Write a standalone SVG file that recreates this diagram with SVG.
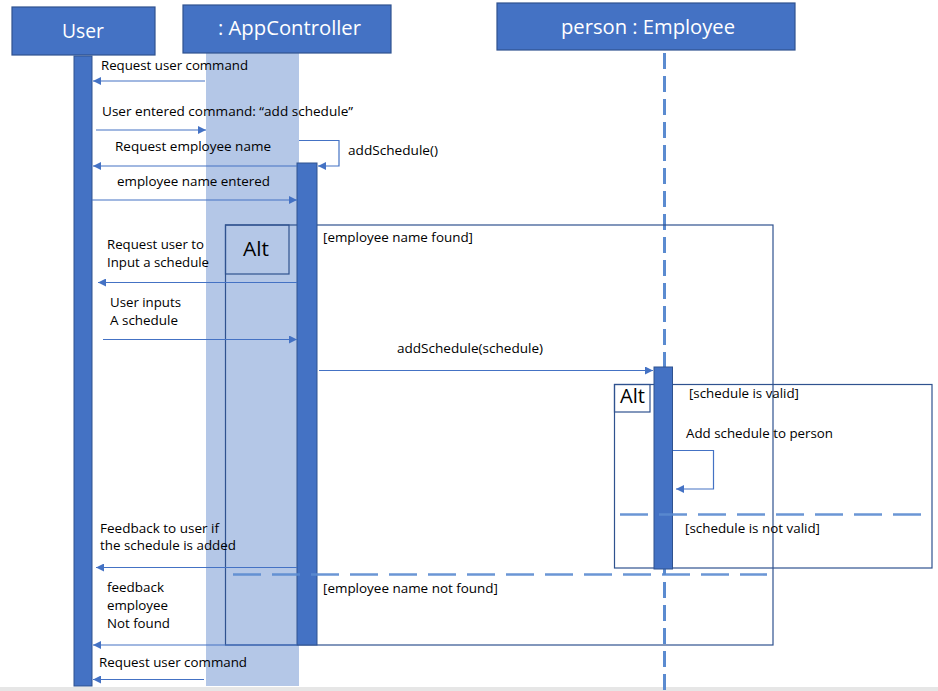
<svg xmlns="http://www.w3.org/2000/svg" width="938" height="691" viewBox="0 0 938 691">
<defs>
<style>
.hdr{fill:#4472C4;stroke:#2F528F;stroke-width:1.2}
.hdrt{font-family:"Open Sans","Liberation Sans",sans-serif;font-size:20px;fill:#FFFFFF}
.act{fill:#4472C4;stroke:#2F528F;stroke-width:1}
.band{fill:#B4C7E7}
.msg{fill:none;stroke:#4472C4;stroke-width:1.2}
.frm{fill:none;stroke:#2F528F;stroke-width:1.2}
.dash{fill:none;stroke:#5B8BD0;stroke-width:2.6;stroke-dasharray:28 11}
.life{fill:none;stroke:#5B8BD0;stroke-width:3;stroke-dasharray:16 7}
.t{font-family:"Open Sans","Liberation Sans",sans-serif;font-size:13px;fill:#000000}
.alt{font-family:"Open Sans","Liberation Sans",sans-serif;font-size:19.5px;fill:#000000}
</style>
<marker id="ah" viewBox="0 0 10 10" refX="10" refY="5" markerWidth="9" markerHeight="8" markerUnits="userSpaceOnUse" orient="auto">
<path d="M0,0 L10,5 L0,10 z" fill="#4472C4"/>
</marker>
</defs>
<rect x="0" y="0" width="938" height="691" fill="#FFFFFF"/>
<rect x="0" y="687" width="938" height="4" fill="#E6E6E6"/>

<g id="appcontroller">
<rect class="band" x="206" y="53" width="93" height="633"/>
<rect class="hdr" x="183" y="5" width="208" height="48"/>
<text class="hdrt" x="218" y="35" textLength="143" lengthAdjust="spacingAndGlyphs">: AppController</text>
</g>

<g id="user">
<rect class="hdr" x="12" y="7" width="143" height="48"/>
<text class="hdrt" x="62" y="38" textLength="42" lengthAdjust="spacingAndGlyphs">User</text>
<rect class="act" x="74" y="56" width="18" height="630"/>
</g>

<g id="employee">
<rect class="hdr" x="497" y="3" width="298" height="47"/>
<text class="hdrt" x="561" y="34" textLength="174" lengthAdjust="spacingAndGlyphs">person : Employee</text>
<line class="life" x1="664.5" y1="53" x2="664.5" y2="691"/>
</g>

<g id="alt-outer">
<rect class="frm" x="225.5" y="225" width="547.5" height="420"/>
<rect class="frm" x="225.5" y="225" width="63.5" height="49"/>
<text class="alt" x="243" y="256" textLength="26" lengthAdjust="spacingAndGlyphs">Alt</text>
<text class="t" x="323" y="242" textLength="150" lengthAdjust="spacingAndGlyphs">[employee name found]</text>
<text class="t" x="323" y="593" textLength="175" lengthAdjust="spacingAndGlyphs">[employee name not found]</text>
</g>

<g id="appcontroller-activation">
<rect class="act" x="297" y="163" width="20" height="482"/>
</g>

<g id="alt-inner">
<rect class="frm" x="614.5" y="384.5" width="317.5" height="183.5"/>
<rect class="frm" x="614.5" y="384.5" width="35.5" height="27.5"/>
<text class="alt" x="620" y="403" textLength="25" lengthAdjust="spacingAndGlyphs">Alt</text>
<text class="t" x="689" y="398" textLength="110" lengthAdjust="spacingAndGlyphs">[schedule is valid]</text>
<text class="t" x="686" y="438" textLength="147" lengthAdjust="spacingAndGlyphs">Add schedule to person</text>
<text class="t" x="685" y="533" textLength="135" lengthAdjust="spacingAndGlyphs">[schedule is not valid]</text>
</g>

<g id="employee-activation">
<rect class="act" x="654" y="367" width="18.5" height="202"/>
</g>

<g id="separators">
<line class="dash" x1="620" y1="514.5" x2="932" y2="514.5" opacity="0.9"/>
<line class="dash" x1="233" y1="574.5" x2="767" y2="574.5" opacity="0.9"/>
</g>

<g id="connectors">
<line class="msg" x1="205" y1="81" x2="93" y2="81" marker-end="url(#ah)"/>
<text class="t" x="101" y="70" textLength="147" lengthAdjust="spacingAndGlyphs">Request user command</text>

<line class="msg" x1="96" y1="130" x2="206" y2="130" marker-end="url(#ah)"/>
<text class="t" x="102" y="116" textLength="251" lengthAdjust="spacingAndGlyphs">User entered command: “add schedule”</text>

<polyline class="msg" points="299,140.5 339,140.5 339,166 318,166" marker-end="url(#ah)"/>
<text class="t" x="348" y="155" textLength="90" lengthAdjust="spacingAndGlyphs">addSchedule()</text>

<line class="msg" x1="297" y1="166" x2="93" y2="166" marker-end="url(#ah)"/>
<text class="t" x="115" y="151" textLength="156" lengthAdjust="spacingAndGlyphs">Request employee name</text>

<line class="msg" x1="92" y1="200" x2="297" y2="200" marker-end="url(#ah)"/>
<text class="t" x="117" y="186" textLength="153" lengthAdjust="spacingAndGlyphs">employee name entered</text>

<line class="msg" x1="297" y1="282.5" x2="98" y2="282.5" marker-end="url(#ah)"/>
<text class="t" x="107" y="249" textLength="97" lengthAdjust="spacingAndGlyphs">Request user to</text>
<text class="t" x="107" y="267" textLength="102" lengthAdjust="spacingAndGlyphs">Input a schedule</text>

<line class="msg" x1="103" y1="339.5" x2="297" y2="339.5" marker-end="url(#ah)"/>
<text class="t" x="110" y="307" textLength="71" lengthAdjust="spacingAndGlyphs">User inputs</text>
<text class="t" x="110" y="325" textLength="68" lengthAdjust="spacingAndGlyphs">A schedule</text>

<line class="msg" x1="319" y1="370.5" x2="653" y2="370.5" marker-end="url(#ah)"/>
<text class="t" x="397" y="353" textLength="146" lengthAdjust="spacingAndGlyphs">addSchedule(schedule)</text>

<polyline class="msg" points="673,450.5 713.5,450.5 713.5,489 676,489" marker-end="url(#ah)"/>

<line class="msg" x1="297" y1="567.5" x2="96" y2="567.5" marker-end="url(#ah)"/>
<text class="t" x="100" y="533" textLength="119" lengthAdjust="spacingAndGlyphs">Feedback to user if</text>
<text class="t" x="100" y="550" textLength="136" lengthAdjust="spacingAndGlyphs">the schedule is added</text>

<line class="msg" x1="297" y1="645" x2="93" y2="645" marker-end="url(#ah)"/>
<text class="t" x="107" y="592" textLength="57" lengthAdjust="spacingAndGlyphs">feedback</text>
<text class="t" x="107" y="610" textLength="61" lengthAdjust="spacingAndGlyphs">employee</text>
<text class="t" x="107" y="628" textLength="63" lengthAdjust="spacingAndGlyphs">Not found</text>

<line class="msg" x1="204" y1="679.5" x2="93" y2="679.5" marker-end="url(#ah)"/>
<text class="t" x="99" y="667" textLength="148" lengthAdjust="spacingAndGlyphs">Request user command</text>
</g>
</svg>
